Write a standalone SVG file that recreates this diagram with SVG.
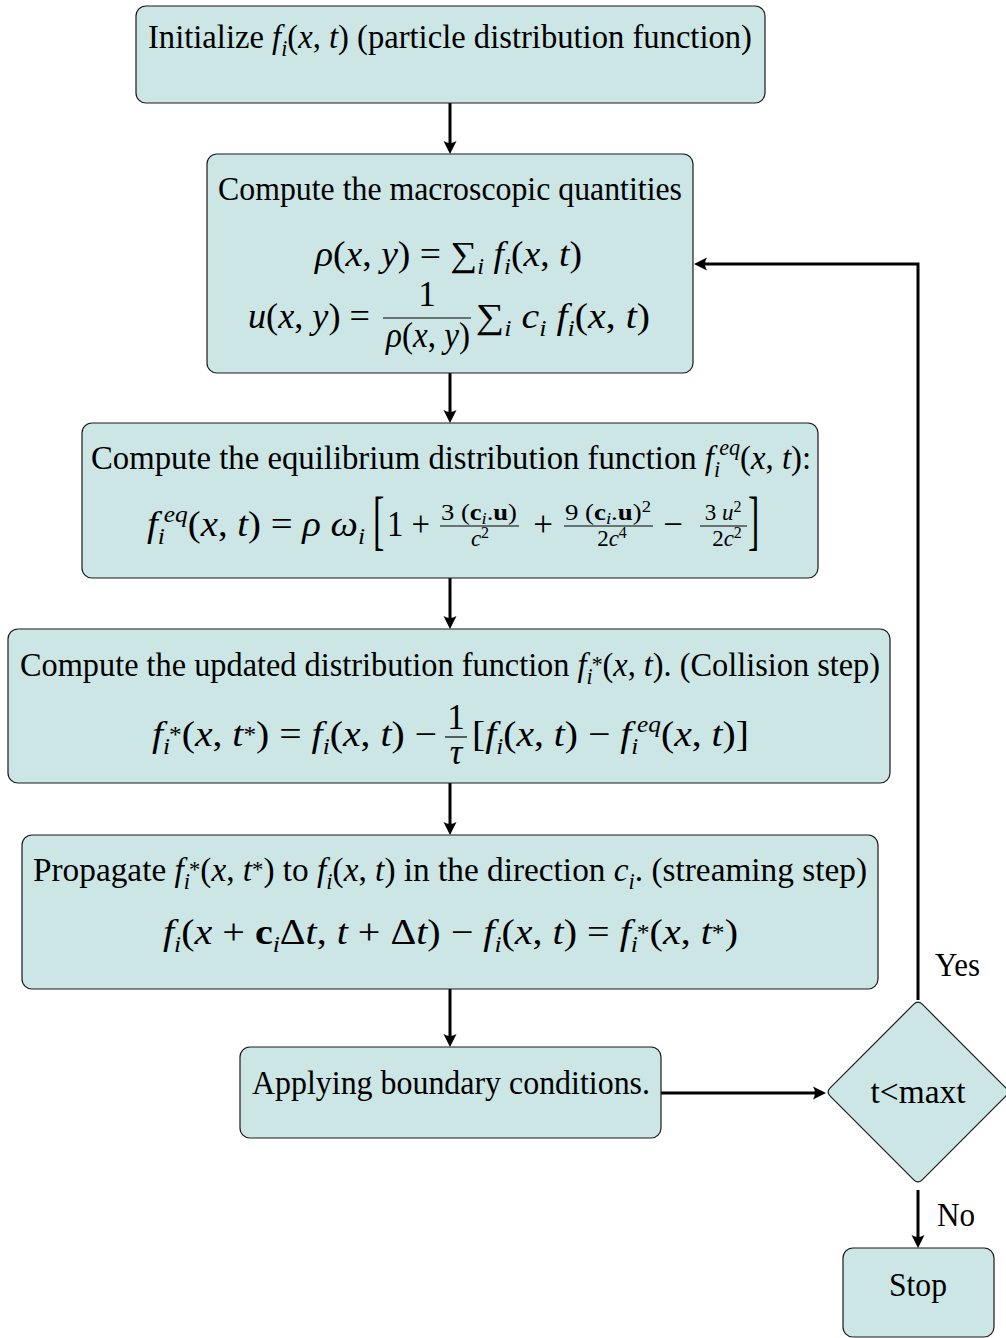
<svg xmlns="http://www.w3.org/2000/svg" width="1006" height="1338" viewBox="0 0 1006 1338">
<style>
.box{fill:#cce6e5;stroke:#1a1a1a;stroke-width:1.2}
.t{font-family:"Liberation Serif","DejaVu Serif",serif;font-size:34px;fill:#000}
.mt{font-size:35px}
.mb{font-size:36px}
.m{font-style:italic}
.up{font-style:normal}
.s{font-size:23px}
.fs{font-size:23px}
.ss{font-size:16px}
.b{font-weight:bold;font-style:normal}
.conn{fill:none;stroke:#000;stroke-width:3}
.bar{stroke:#000;stroke-width:1.2}
</style>
<defs>
<marker id="ah" viewBox="-8 -8 16 16" markerWidth="16" markerHeight="16" refX="0" refY="0" markerUnits="userSpaceOnUse" orient="auto"><path d="M6,0 L-7,-6.5 Q-3,0 -7,6.5 Z" fill="#000"/></marker>
</defs>
<g id="connectors">
<path class="conn" d="M450 103 V148" marker-end="url(#ah)"/>
<path class="conn" d="M450 373 V417" marker-end="url(#ah)"/>
<path class="conn" d="M450 578 V623" marker-end="url(#ah)"/>
<path class="conn" d="M450 783 V829" marker-end="url(#ah)"/>
<path class="conn" d="M450 989 V1041" marker-end="url(#ah)"/>
<path class="conn" d="M661 1093 H820" marker-end="url(#ah)"/>
<path class="conn" d="M918 1190 V1242" marker-end="url(#ah)"/>
<path class="conn" d="M918 1000 V264 H700" marker-end="url(#ah)"/>
<text class="t" x="935" y="976" textLength="45" lengthAdjust="spacingAndGlyphs">Yes</text>
<text class="t" x="937" y="1226" textLength="38" lengthAdjust="spacingAndGlyphs">No</text>
</g>
<g id="n1">
<rect class="box" x="136" y="6" width="629" height="97" rx="10"/>
<text class="t" x="148" y="48" textLength="604" lengthAdjust="spacingAndGlyphs">Initialize <tspan class="m">f</tspan><tspan class="s m" dy="8">i</tspan><tspan dy="-8">(</tspan><tspan class="m">x</tspan>, <tspan class="m">t</tspan>) (particle distribution function)</text>
</g>
<g id="n2">
<rect class="box" x="207" y="154" width="486" height="219" rx="10"/>
<text class="t" x="218" y="200" textLength="464" lengthAdjust="spacingAndGlyphs">Compute the macroscopic quantities</text>
<text class="t mt" x="315" y="266" textLength="267" lengthAdjust="spacingAndGlyphs"><tspan class="m">ρ</tspan>(<tspan class="m">x</tspan>, <tspan class="m">y</tspan>) = ∑<tspan class="s m" dy="8">i</tspan> <tspan class="m" dy="-8">f</tspan><tspan class="s m" dy="8">i</tspan><tspan dy="-8">(</tspan><tspan class="m">x</tspan>, <tspan class="m">t</tspan>)</text>
<text class="t mt" x="248" y="328" textLength="122" lengthAdjust="spacingAndGlyphs"><tspan class="m">u</tspan>(<tspan class="m">x</tspan>, <tspan class="m">y</tspan>) =</text>
<text class="t mt" x="427" y="306" text-anchor="middle">1</text>
<line class="bar" x1="383" y1="318" x2="471" y2="318"/>
<text class="t mt" x="386" y="347" textLength="84" lengthAdjust="spacingAndGlyphs"><tspan class="m">ρ</tspan>(<tspan class="m">x</tspan>, <tspan class="m">y</tspan>)</text>
<text class="t mt" x="476" y="328" textLength="174" lengthAdjust="spacingAndGlyphs">∑<tspan class="s m" dy="8">i</tspan> <tspan class="m" dy="-8">c</tspan><tspan class="s m" dy="8">i</tspan> <tspan class="m" dy="-8">f</tspan><tspan class="s m" dy="8">i</tspan><tspan dy="-8">(</tspan><tspan class="m">x</tspan>, <tspan class="m">t</tspan>)</text>
</g>
<g id="n3">
<rect class="box" x="82" y="423" width="736" height="155" rx="10"/>
<text class="t" x="91" y="469" textLength="720" lengthAdjust="spacingAndGlyphs">Compute the equilibrium distribution function <tspan class="m">f</tspan><tspan class="s m" dy="8">i</tspan><tspan class="s m" dx="-1" dy="-22">eq</tspan><tspan dy="14">(</tspan><tspan class="m">x</tspan>, <tspan class="m">t</tspan>):</text>
<text class="t mt" x="147" y="536" textLength="218" lengthAdjust="spacingAndGlyphs"><tspan class="m">f</tspan><tspan class="s m" dy="8">i</tspan><tspan class="s m" dx="-1" dy="-22">eq</tspan><tspan dy="14">(</tspan><tspan class="m">x</tspan>, <tspan class="m">t</tspan>) = <tspan class="m">ρ ω</tspan><tspan class="s m" dy="8">i</tspan></text>
<text class="t" style="font-size:34px" transform="translate(373 541.5) scale(1 1.93)">[</text>
<text class="t mt" x="387" y="536" textLength="43" lengthAdjust="spacingAndGlyphs">1 +</text>
<text class="t fs" x="479" y="520" text-anchor="middle" textLength="76" lengthAdjust="spacingAndGlyphs">3 (<tspan class="b">c</tspan><tspan class="ss m" dy="4">i</tspan><tspan dy="-4">.</tspan><tspan class="b">u</tspan>)</text>
<line class="bar" x1="440" y1="526" x2="519" y2="526"/>
<text class="t fs m" x="480" y="546" text-anchor="middle">c<tspan class="ss up" dy="-8">2</tspan></text>
<text class="t mt" x="543" y="536" text-anchor="middle">+</text>
<text class="t fs" x="608" y="520" text-anchor="middle" textLength="86" lengthAdjust="spacingAndGlyphs">9 (<tspan class="b">c</tspan><tspan class="ss m" dy="4">i</tspan><tspan dy="-4">.</tspan><tspan class="b">u</tspan>)<tspan class="ss" dy="-8">2</tspan></text>
<line class="bar" x1="564" y1="526" x2="653" y2="526"/>
<text class="t fs" x="612" y="546" text-anchor="middle">2<tspan class="m">c</tspan><tspan class="ss" dy="-8">4</tspan></text>
<text class="t mt" x="673" y="536" text-anchor="middle">−</text>
<text class="t fs" x="723" y="520" text-anchor="middle">3 <tspan class="m">u</tspan><tspan class="ss" dy="-8">2</tspan></text>
<line class="bar" x1="700" y1="526" x2="747" y2="526"/>
<text class="t fs" x="727" y="546" text-anchor="middle">2<tspan class="m">c</tspan><tspan class="ss" dy="-8">2</tspan></text>
<text class="t" style="font-size:34px" transform="translate(748 541.5) scale(1 1.93)">]</text>
</g>
<g id="n4">
<rect class="box" x="8" y="629" width="882" height="154" rx="10"/>
<text class="t" x="20" y="676" textLength="860" lengthAdjust="spacingAndGlyphs">Compute the updated distribution function <tspan class="m">f</tspan><tspan class="s m" dy="8">i</tspan><tspan class="s" dx="-1" dy="-12">*</tspan><tspan dy="4">(</tspan><tspan class="m">x</tspan>, <tspan class="m">t</tspan>). (Collision step)</text>
<text class="t mb" x="152" y="746" textLength="285" lengthAdjust="spacingAndGlyphs"><tspan class="m">f</tspan><tspan class="s m" dy="8">i</tspan><tspan class="s" dx="-1" dy="-12">*</tspan><tspan dy="4">(</tspan><tspan class="m">x</tspan>, <tspan class="m">t</tspan><tspan class="s" dy="-4">*</tspan><tspan dy="4">)</tspan> = <tspan class="m">f</tspan><tspan class="s m" dy="8">i</tspan><tspan dy="-8">(</tspan><tspan class="m">x</tspan>, <tspan class="m">t</tspan>) −</text>
<text class="t mt" x="456" y="729" text-anchor="middle">1</text>
<line class="bar" x1="445" y1="737" x2="467" y2="737"/>
<text class="t mt m" x="456" y="764" text-anchor="middle">τ</text>
<text class="t mb" x="472" y="746" textLength="277" lengthAdjust="spacingAndGlyphs">[<tspan class="m">f</tspan><tspan class="s m" dy="8">i</tspan><tspan dy="-8">(</tspan><tspan class="m">x</tspan>, <tspan class="m">t</tspan>) − <tspan class="m">f</tspan><tspan class="s m" dy="8">i</tspan><tspan class="s m" dx="-1" dy="-22">eq</tspan><tspan dy="14">(</tspan><tspan class="m">x</tspan>, <tspan class="m">t</tspan>)]</text>
</g>
<g id="n5">
<rect class="box" x="22" y="835" width="856" height="154" rx="10"/>
<text class="t" x="33" y="881" textLength="834" lengthAdjust="spacingAndGlyphs">Propagate <tspan class="m">f</tspan><tspan class="s m" dy="8">i</tspan><tspan class="s" dx="-1" dy="-12">*</tspan><tspan dy="4">(</tspan><tspan class="m">x</tspan>, <tspan class="m">t</tspan><tspan class="s" dy="-4">*</tspan><tspan dy="4">)</tspan> to <tspan class="m">f</tspan><tspan class="s m" dy="8">i</tspan><tspan dy="-8">(</tspan><tspan class="m">x</tspan>, <tspan class="m">t</tspan>) in the direction <tspan class="m">c</tspan><tspan class="s m" dy="8">i</tspan><tspan dy="-8">.</tspan> (streaming step)</text>
<text class="t mb" x="163" y="944" textLength="575" lengthAdjust="spacingAndGlyphs"><tspan class="m">f</tspan><tspan class="s m" dy="8">i</tspan><tspan dy="-8">(</tspan><tspan class="m">x</tspan> + <tspan class="b">c</tspan><tspan class="s m" dy="8">i</tspan><tspan dy="-8">Δ</tspan><tspan class="m">t</tspan>, <tspan class="m">t</tspan> + Δ<tspan class="m">t</tspan>) −  <tspan class="m">f</tspan><tspan class="s m" dy="8">i</tspan><tspan dy="-8">(</tspan><tspan class="m">x</tspan>, <tspan class="m">t</tspan>) = <tspan class="m">f</tspan><tspan class="s m" dy="8">i</tspan><tspan class="s" dx="-1" dy="-12">*</tspan><tspan dy="4">(</tspan><tspan class="m">x</tspan>, <tspan class="m">t</tspan><tspan class="s" dy="-4">*</tspan><tspan dy="4">)</tspan></text>
</g>
<g id="n6">
<rect class="box" x="240" y="1047" width="421" height="91" rx="10"/>
<text class="t" x="252" y="1094" textLength="398" lengthAdjust="spacingAndGlyphs">Applying boundary conditions.</text>
</g>
<g id="n7">
<path class="box" d="M913.8 1004.2 Q918 1000 922.2 1004.2 L1005.8 1087.8 Q1010 1092 1005.8 1096.2 L922.2 1179.8 Q918 1184 913.8 1179.8 L830.2 1096.2 Q826 1092 830.2 1087.8 Z"/>
<text class="t" x="918" y="1103" text-anchor="middle" textLength="95" lengthAdjust="spacingAndGlyphs">t&lt;maxt</text>
</g>
<g id="n8">
<rect class="box" x="843" y="1248" width="151" height="89" rx="10"/>
<text class="t" x="918" y="1296" text-anchor="middle" textLength="58" lengthAdjust="spacingAndGlyphs">Stop</text>
</g>
</svg>
